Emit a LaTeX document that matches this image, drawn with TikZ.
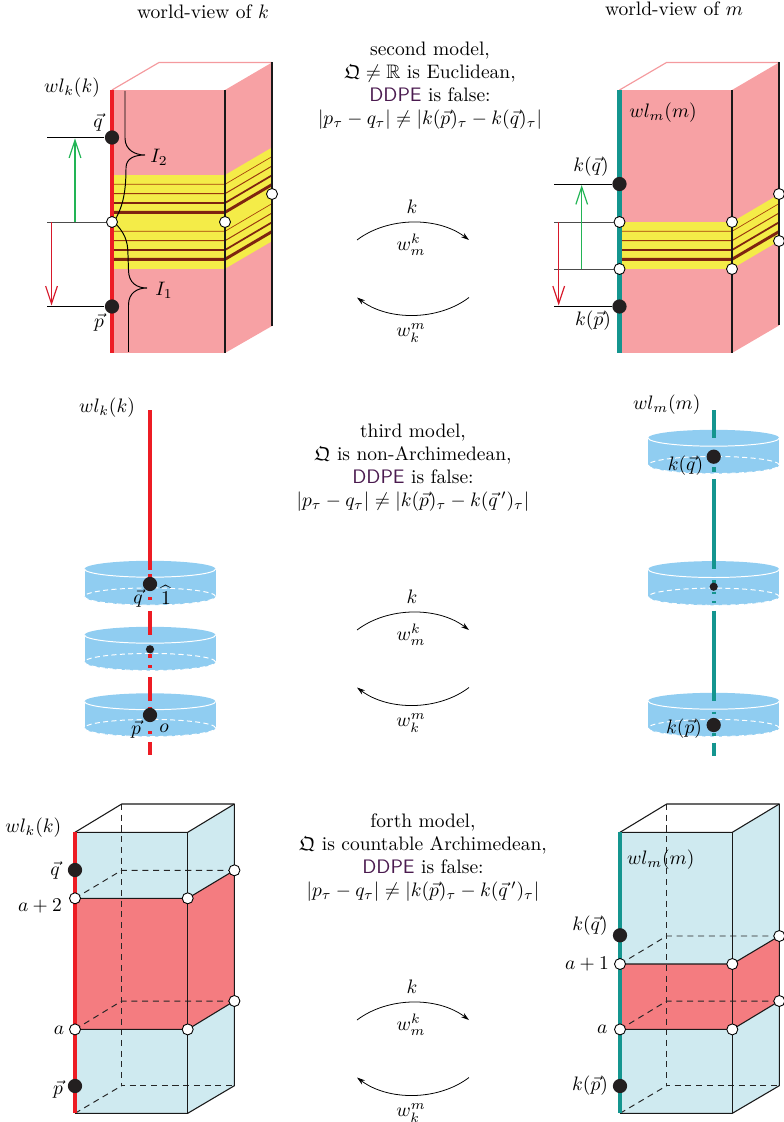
\documentclass[tikz,border=0pt]{standalone}
\usepackage{amssymb}
\usetikzlibrary{arrows.meta}
\definecolor{pinkface}{HTML}{F7A1A4}
\definecolor{pinkedge}{HTML}{F49A9E}
\definecolor{wlred}{HTML}{ED1C24}
\definecolor{wlteal}{HTML}{14958F}
\definecolor{bandyellow}{HTML}{F4EC48}
\definecolor{bandbrown}{HTML}{7E2410}
\definecolor{arrowgreen}{HTML}{22B455}
\definecolor{arrowred}{HTML}{D7182A}
\definecolor{discblue}{HTML}{90CDF1}
\definecolor{paleblue}{HTML}{CFEAF0}
\definecolor{slabred}{HTML}{F47C80}
\definecolor{ddpe}{HTML}{4A1A4F}
\definecolor{dotblack}{HTML}{231F20}
\tikzset{
  wl/.style={line width=2.2pt,line cap=butt},
  edge/.style={line width=0.55pt,draw=black!90},
  hid/.style={line width=0.5pt,draw=black!85,dash pattern=on 3.1pt off 2.4pt},
  lvl/.style={line width=0.5pt},
  wdot/.style={circle,draw=black,fill=white,line width=0.45pt,minimum size=5.65pt,inner sep=0pt},
  bdot/.style={circle,fill=dotblack,minimum size=7.3pt,inner sep=0pt},
  sdot/.style={circle,fill=dotblack,minimum size=4.2pt,inner sep=0pt},
  tipbig/.style={-{Straight Barb[length=9pt,width=6pt,line width=0.6pt]},line width=0.6pt},
  map/.style={-{Stealth[length=4.2pt,width=2.6pt]},line width=0.4pt},
  lab/.style={inner sep=0pt},
  block/.style={inner sep=0pt,align=center,font=\fontsize{10}{11.8}\selectfont},
}
% band lines on front and side faces
\newcommand{\bandlines}[4]{%
  \draw[bandbrown!70!orange,line width=0.35pt] (#1,#4+9.3)--(#2,#4+9.3)--(#3,#4-18.4);
  \draw[bandbrown!80!orange,line width=0.5pt] (#1,#4+18.7)--(#2,#4+18.7)--(#3,#4-9);
  \draw[bandbrown,line width=0.9pt] (#1,#4+28)--(#2,#4+28)--(#3,#4+0.3);
  \draw[bandbrown,line width=1.5pt] (#1,#4+37.3)--(#2,#4+37.3)--(#3,#4+9.6);
}
% one disc: centre x, top y, bottom y
\newcommand{\disc}[3]{%
  \fill[discblue] (#1-65.5,#2) rectangle (#1+65.5,#3);
  \fill[discblue] (#1,#2) ellipse [x radius=33.6pt,y radius=4.2pt];
  \fill[discblue] (#1,#3) ellipse [x radius=33.6pt,y radius=4.4pt];
  \draw[white,line width=0.5pt] (#1-65.5,#2) arc (180:360:33.6pt and 4.2pt);
  \draw[white,line width=0.5pt,dash pattern=on 2.6pt off 1.7pt] (#1,#3) ellipse [x radius=33.6pt,y radius=4.4pt];
}
% the pair of maps in the middle, with vertical offset
\newcommand{\mappair}[2]{%
  \coordinate (a#1) at (357,240+#2);
  \coordinate (b#1) at (469,240+#2);
  \coordinate (c#1) at (469,297.5+#2);
  \coordinate (d#1) at (357,297.5+#2);
  \draw[map] (a#1) .. controls (388,216.5+#2) and (438,216.5+#2) .. (b#1);
  \draw[map] (c#1) .. controls (438,321+#2) and (388,321+#2) .. (d#1);
  \node[lab] (k#1) at (412,207+#2) {$k$};
  \node[lab] (wk#1) at (411,245+#2) {$w_m^k$};
  \node[lab] (wm#1) at (411,333+#2) {$w_k^m$};
}
% a tall box with a slab: xl xr xb, slab top y
\newcommand{\tallbox}[4]{%
  \fill[paleblue] (#1,832.3) rectangle (#2,1113.3);
  \fill[paleblue] (#2,832.3) -- (#3,804) -- (#3,1085.7) -- (#2,1113.3) -- cycle;
  \fill[slabred] (#1,#4) rectangle (#2,1029.4);
  \fill[slabred] (#2,#4) -- (#3,#4-28) -- (#3,1001) -- (#2,1029.4) -- cycle;
  \draw[hid] (#1+46.7,804) -- (#1+46.7,1085.7) -- (#3,1085.7);
  \draw[hid] (#1,1113.3) -- (#1+46.7,1085.7);
  \draw[hid] (#1,#4) -- (#1+46.7,#4-28) -- (#3,#4-28);
  \draw[hid] (#1,1029.4) -- (#1+46.7,1001) -- (#3,1001);
  \draw[edge,line join=round] (#1,832.3) -- (#1+46.7,804) -- (#3,804) -- (#3,1085.7) -- (#2,1113.3) -- (#1,1113.3);
  \draw[edge] (#1,832.3) -- (#2,832.3) -- (#3,804);
  \draw[edge] (#2,832.3) -- (#2,1113.3);
  \draw[edge] (#1,#4) -- (#2,#4) -- (#3,#4-28);
  \draw[edge] (#1,1029.4) -- (#2,1029.4) -- (#3,1001);
}
\begin{document}
\begin{tikzpicture}[x=0.5128pt,y=-0.5128pt]
\useasboundingbox (0,0) rectangle (784,1122);

% headings
\node[lab] (h1) at (203,12) {world-view of $k$};
\node[lab] (h2) at (674,9) {world-view of $m$};

% ===== first row, left
\fill[pinkface] (112,90) rectangle (225,353);
\fill[pinkface] (225,90) -- (272,62.5) -- (272,326) -- (225,353) -- cycle;
\draw[pinkedge,line width=0.6pt] (112,90) -- (159,62.5) -- (272,62.5);
\fill[bandyellow] (112,175) rectangle (225,268.7);
\fill[bandyellow] (225,175) -- (272,147.5) -- (272,241.2) -- (225,268.7) -- cycle;
\bandlines{112}{225}{272}{175}
\bandlines{112}{225}{272}{222}
\draw[edge] (225,90) -- (225,353);
\draw[edge] (272,62.5) -- (272,326);
\draw[wl,wlred] (112,90) -- (112,353);
\draw[line width=0.5pt] (125,91) -- (125,138) .. controls (125,150) and (135,155) .. (145,155)
   .. controls (135,155) and (126,158) .. (126,168)
   .. controls (126,195) and (122,208) .. (114,222);
\draw[line width=0.5pt] (114,222) .. controls (124,232) and (128,240) .. (128,255)
   -- (128.5,270) .. controls (128.5,283) and (137,288) .. (147,288)
   .. controls (137,288) and (128.5,293) .. (128.5,305) -- (128.5,352);
\node[bdot] (q1) at (112,137.5) {};
\node[bdot] (p1) at (112,306.5) {};
\node[wdot] (o1) at (112,222) {};
\node[wdot] (o2) at (225,222) {};
\node[wdot] (o3) at (272,194) {};
\coordinate (lq1) at (47,137.5);
\coordinate (lo1) at (47,222);
\coordinate (lp1) at (47,306.5);
\draw[lvl] (lq1) -- (q1);
\draw[lvl,black!70] (lo1) -- (o1);
\draw[lvl] (lp1) -- (p1);
\coordinate (gs1) at (75,222);
\coordinate (ge1) at (75,138.5);
\coordinate (rs1) at (51.5,222);
\coordinate (re1) at (51.5,305.5);
\draw[tipbig,arrowgreen] (gs1) -- (ge1);
\draw[tipbig,arrowred] (rs1) -- (re1);
\node[lab] (t1) at (72,88) {$wl_k(k)$};
\node[lab] (t2) at (98,122) {$\vec q$};
\node[lab] (t3) at (99,322) {$\vec p$};
\node[lab] (t4) at (159,157) {$I_2$};
\node[lab] (t5) at (164,290) {$I_1$};

% ===== first row, right
\fill[pinkface] (619.5,90) rectangle (732,353);
\fill[pinkface] (732,90) -- (779,62.5) -- (779,325.5) -- (732,353) -- cycle;
\draw[pinkedge,line width=0.6pt] (619.5,90) -- (666.5,62.5) -- (779,62.5);
\fill[bandyellow] (619.5,222) rectangle (732,268.7);
\fill[bandyellow] (732,222) -- (779,194.3) -- (779,241) -- (732,268.7) -- cycle;
\bandlines{619.5}{732}{779}{222}
\draw[edge] (732,90) -- (732,353);
\draw[edge] (779,62.5) -- (779,325.5);
\draw[wl,wlteal] (619.5,90) -- (619.5,353);
\node[bdot] (q2) at (619.5,184) {};
\node[bdot] (p2) at (619.5,306.5) {};
\node[wdot] (u1) at (619.5,222) {};
\node[wdot] (u2) at (619.5,269) {};
\node[wdot] (u3) at (732,222) {};
\node[wdot] (u4) at (732,269) {};
\node[wdot] (u5) at (779,194) {};
\node[wdot] (u6) at (779,241) {};
\coordinate (lq2) at (554,184);
\coordinate (lu1) at (554,222);
\coordinate (lu2) at (554,269);
\coordinate (lp2) at (554,306.5);
\draw[lvl] (lq2) -- (q2);
\draw[lvl,black!70] (lu1) -- (u1);
\draw[lvl,black!70] (lu2) -- (u2);
\draw[lvl] (lp2) -- (p2);
\coordinate (gs2) at (581.7,269);
\coordinate (ge2) at (581.7,185);
\coordinate (rs2) at (558.7,222);
\coordinate (re2) at (558.7,305.5);
\draw[tipbig,arrowgreen] (gs2) -- (ge2);
\draw[tipbig,arrowred] (rs2) -- (re2);
\node[lab] (t6) at (591,167) {$k(\vec q)$};
\node[lab] (t7) at (593,320.5) {$k(\vec p)$};
\node[lab] (t8) at (663,113) {$wl_m(m)$};

% ===== second row, left
\disc{150}{569}{596.5}
\disc{150}{635}{662}
\disc{150}{701.5}{728}
\foreach \a/\b in {410/569.5,574/577,597/600,611/635,654/658,665/668,677/701,707/710,731/734,742/755}
  \draw[wl,wlred] (150,\a) -- (150,\b);
\node[bdot] (q3) at (150,584) {};
\node[sdot] (c3) at (150,649.3) {};
\node[bdot] (p3) at (150,715) {};
\node[lab] (t9) at (107,408) {$wl_k(k)$};
\node[lab] (t10) at (138,598) {$\vec q$};
\node[lab] (t11) at (166,595) {$\widehat{1}$};
\node[lab] (t12) at (136,729) {$\vec p$};
\node[lab] (t13) at (164,728) {$o$};

% ===== second row, right
\disc{713.7}{438}{465}
\disc{713.7}{569.3}{596.7}
\disc{713.7}{701}{728}
\foreach \a/\b in {410/437.7,467/472,479/569,580/583,591.7/594,601/603,610.7/700.7,711.7/713.5,733/736,742.7/756}
  \draw[wl,wlteal] (713.7,\a) -- (713.7,\b);
\node[bdot] (q4) at (713.7,456.7) {};
\node[sdot] (c4) at (713.7,586.7) {};
\node[bdot] (p4) at (713.7,725) {};
\node[lab] (t14) at (666.7,405) {$wl_m(m)$};
\node[lab] (t15) at (685.5,466) {$k(\vec q)$};
\node[lab] (t16) at (684,729) {$k(\vec p)$};

% ===== third row, left
\tallbox{75}{187.7}{234.4}{898.3}
\draw[wl,wlred] (75,832.3) -- (75,1113.3);
\node[bdot] (q5) at (75,870) {};
\node[bdot] (p5) at (75,1086) {};
\node[wdot] (v1) at (75,898.3) {};
\node[wdot] (v2) at (187.7,898.3) {};
\node[wdot] (v3) at (234.4,870.3) {};
\node[wdot] (v4) at (75,1029.4) {};
\node[wdot] (v5) at (187.7,1029.4) {};
\node[wdot] (v6) at (234.4,1001) {};
\node[lab] (t17) at (33.3,828) {$wl_k(k)$};
\node[lab] (t18) at (55,870) {$\vec q$};
\node[lab] (t19) at (40,906.5) {$a+2$};
\node[lab] (t20) at (59,1030) {$a$};
\node[lab] (t21) at (58,1089) {$\vec p$};

% ===== third row, right
\tallbox{620}{732.3}{779.3}{964}
\draw[wl,wlteal] (620,832.3) -- (620,1113.3);
\node[bdot] (q6) at (620,935.3) {};
\node[bdot] (p6) at (620,1086) {};
\node[wdot] (w1) at (620,964) {};
\node[wdot] (w2) at (732.3,964) {};
\node[wdot] (w3) at (779.3,936) {};
\node[wdot] (w4) at (620,1029.4) {};
\node[wdot] (w5) at (732.3,1029.4) {};
\node[wdot] (w6) at (779.3,1001) {};
\node[lab] (t22) at (660.7,860) {$wl_m(m)$};
\node[lab] (t23) at (590,926) {$k(\vec q)$};
\node[lab] (t24) at (587,964) {$a+1$};
\node[lab] (t25) at (602.3,1029) {$a$};
\node[lab] (t26) at (590,1086) {$k(\vec p)$};

% ===== text blocks
\node[block] (m1) at (430,86) {second model,\\ $\mathfrak{Q}\neq\mathbb{R}$ is Euclidean,\\ \textcolor{ddpe}{\textsf{DDPE}} is false:\\ $|p_\tau-q_\tau|\neq|k(\vec p)_\tau-k(\vec q)_\tau|$};
\node[block] (m2) at (413,467.5) {third model,\\ $\mathfrak{Q}$ is non-Archimedean,\\ \textcolor{ddpe}{\textsf{DDPE}} is false:\\ $|p_\tau-q_\tau|\neq|k(\vec p)_\tau-k(\vec q\,')_\tau|$};
\node[block] (m3) at (423,857.5) {forth model,\\ $\mathfrak{Q}$ is countable Archimedean,\\ \textcolor{ddpe}{\textsf{DDPE}} is false:\\ $|p_\tau-q_\tau|\neq|k(\vec p)_\tau-k(\vec q\,')_\tau|$};

% ===== maps
\mappair{A}{0}
\mappair{B}{390}
\mappair{C}{780}
\end{tikzpicture}
\end{document}
